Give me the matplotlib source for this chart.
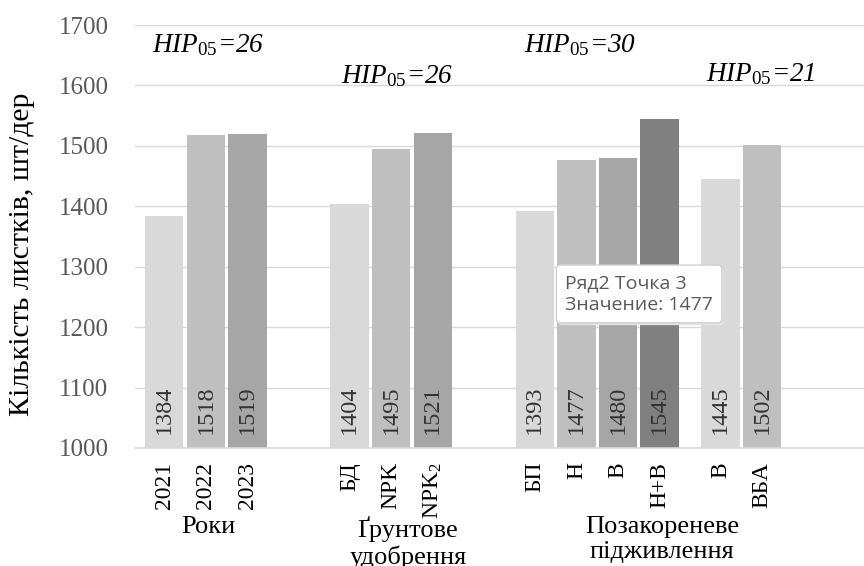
import matplotlib
matplotlib.use('Agg')
import matplotlib.pyplot as plt
import numpy as np

plt.rcParams['font.family'] = ['Liberation Serif', 'DejaVu Serif']
plt.rcParams['mathtext.fontset'] = 'custom'
plt.rcParams['mathtext.rm'] = 'Liberation Serif'
plt.rcParams['mathtext.it'] = 'Liberation Serif:italic'

# data
labels = ['2021', '2022', '2023', 'БД', 'NPK', 'NPK$_2$', 'БП', 'Н', 'В', 'Н+В', 'В', 'ВБА']
values = [1384, 1518, 1519, 1404, 1495, 1521, 1393, 1477, 1480, 1545, 1445, 1502]
group_sizes = [3, 3, 4, 2]
group_names = ['Роки', 'Ґрунтове\nудобрення', 'Позакореневе\nпідживлення']
hip_texts = ['=26', '=26', '=30', '=21']
tooltip = 'Ряд2 Точка 3\nЗначение: 1477'

# layout
group_starts = [0, 4.45, 8.9, 13.36]
name_x = [1.05, 5.85, 11.96]
hip_pos = [(1.05, 1666), (5.59, 1615), (10.0, 1667), (14.34, 1619)]
shades = ['#d9d9d9', '#bfbfbf', '#a6a6a6', '#808080']
x = []
colors = []
for start, n in zip(group_starts, group_sizes):
    for i in range(n):
        x.append(start + i)
        colors.append(shades[i])
x = np.array(x)

fig = plt.figure(figsize=(8.64, 5.66), dpi=100)
ax = fig.add_axes([0.156, 0.2085, 0.844, 0.7473])

ax.bar(x, values, width=0.92, color=colors, zorder=2)
ax.set_ylim(1000, 1700)
ax.set_xlim(-0.71, 16.81)
ax.set_yticks(range(1000, 1701, 100))
ax.yaxis.grid(True, color='#d9d9d9', lw=1, zorder=0)
for s in ['top', 'right', 'left']:
    ax.spines[s].set_visible(False)
ax.spines['bottom'].set_color('#d9d9d9')
ax.spines['bottom'].set_linewidth(1.2)
ax.tick_params(axis='both', length=0)
ax.tick_params(axis='y', labelsize=18, labelcolor='#595959', pad=19)
ax.set_xticks(x)
ax.set_xticklabels(labels, rotation=90, fontsize=17, color='black')
ax.tick_params(axis='x', pad=10)

ax.set_ylabel('Кількість листків, шт/дер', fontsize=21.5)
ax.yaxis.set_label_coords(-0.137, 0.457)

# value labels inside bars
for xi, v in zip(x, values):
    ax.text(xi, 1023, str(v), rotation=90, ha='center', va='bottom',
            fontsize=17.5, color='#333333', zorder=3)

# group names below
for cx, name in zip(name_x, group_names):
    ax.text(cx, -0.16, name, transform=ax.get_xaxis_transform(),
            ha='center', va='top', fontsize=19, linespacing=1.2)

# HIP labels
for (hx, hy), t in zip(hip_pos, hip_texts):
    ax.text(hx, hy, r'$\mathit{HIP}_{\mathit{05}}$' + t, ha='center', va='center',
            fontsize=19.5, fontstyle='italic', zorder=4)

# tooltip (with a faint shadow behind it)
ax.text(9.67, 1251, tooltip, family='Open Sans',
        fontsize=14, color='none', ha='left', va='center', linespacing=1.3,
        zorder=4.9,
        bbox=dict(boxstyle='round,pad=0.45,rounding_size=0.2', fc='#e3e3e3',
                  ec='none'))
ax.text(9.63, 1255, tooltip, family='Open Sans',
        fontsize=14, color='#595959', ha='left', va='center', linespacing=1.3,
        zorder=5,
        bbox=dict(boxstyle='round,pad=0.45,rounding_size=0.2', fc='white',
                  ec='#d0d0d0', lw=1))

fig.savefig('out.png', dpi=100)
